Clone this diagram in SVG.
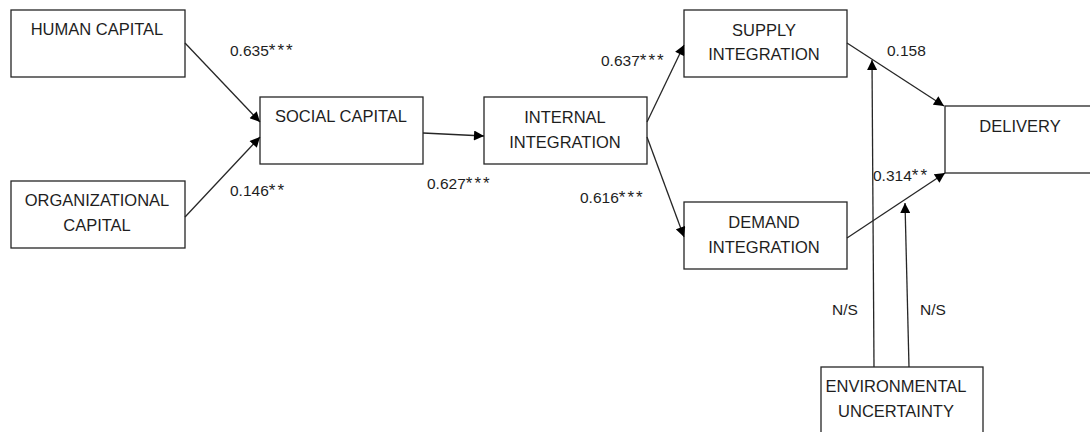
<svg xmlns="http://www.w3.org/2000/svg" width="1090" height="432" viewBox="0 0 1090 432">
<defs>
<style>
.box{fill:#fff;stroke:#262626;stroke-width:1.3}
.t{font-family:"Liberation Sans",Arial,sans-serif;font-size:16.5px;fill:#1e1e1e;text-anchor:middle}
.l{font-family:"Liberation Sans",Arial,sans-serif;font-size:15.5px;fill:#1e1e1e}
.s{letter-spacing:2px;font-size:17px}
.c{stroke:#262626;stroke-width:1.3;fill:none;marker-end:url(#ah)}
</style>
<marker id="ah" viewBox="0 0 10 10" refX="10" refY="5" markerWidth="11" markerHeight="10" markerUnits="userSpaceOnUse" orient="auto">
<path d="M0,0 L10,5 L0,10 Z" fill="#000"/>
</marker>
</defs>
<rect width="1090" height="432" fill="#fff"/>
<g id="human"><rect class="box" x="11" y="10" width="174" height="67"/><text class="t" x="97" y="35">HUMAN CAPITAL</text></g>
<g id="org"><rect class="box" x="11" y="181" width="174" height="67"/><text class="t" x="97" y="206">ORGANIZATIONAL</text><text class="t" x="97" y="231">CAPITAL</text></g>
<g id="social"><rect class="box" x="260" y="97" width="163" height="67"/><text class="t" x="341" y="122">SOCIAL CAPITAL</text></g>
<g id="internal"><rect class="box" x="484" y="97" width="163" height="67"/><text class="t" x="565" y="123">INTERNAL</text><text class="t" x="565" y="148">INTEGRATION</text></g>
<g id="supply"><rect class="box" x="684" y="10" width="163" height="67"/><text class="t" x="764" y="36">SUPPLY</text><text class="t" x="764" y="60">INTEGRATION</text></g>
<g id="demand"><rect class="box" x="684" y="202" width="163" height="67"/><text class="t" x="764" y="228">DEMAND</text><text class="t" x="764" y="253">INTEGRATION</text></g>
<g id="delivery"><rect class="box" x="945" y="106" width="160" height="67"/><text class="t" x="1020" y="132">DELIVERY</text></g>
<g id="env"><rect class="box" x="821" y="367" width="162" height="75"/><text class="t" x="896" y="392">ENVIRONMENTAL</text><text class="t" x="896" y="417">UNCERTAINTY</text></g>
<g id="connectors">
<line class="c" x1="185" y1="43" x2="260" y2="122"/>
<line class="c" x1="185" y1="217" x2="260" y2="137"/>
<line class="c" x1="423" y1="133" x2="484" y2="136"/>
<line class="c" x1="647" y1="122" x2="684" y2="45"/>
<line class="c" x1="647" y1="137" x2="684" y2="237"/>
<line class="c" x1="847" y1="43" x2="944" y2="106"/>
<line class="c" x1="847" y1="238" x2="945" y2="173"/>
<line class="c" x1="874" y1="367" x2="872" y2="60"/>
<line class="c" x1="909" y1="367" x2="905" y2="203"/>
</g>
<g id="labels">
<text class="l" x="230" y="56">0.635<tspan class="s">***</tspan></text>
<text class="l" x="230" y="196">0.146<tspan class="s">**</tspan></text>
<text class="l" x="427" y="189">0.627<tspan class="s">***</tspan></text>
<text class="l" x="601" y="66">0.637<tspan class="s">***</tspan></text>
<text class="l" x="580" y="203">0.616<tspan class="s">***</tspan></text>
<text class="l" x="887" y="56">0.158</text>
<text class="l" x="873" y="181">0.314<tspan class="s">**</tspan></text>
<text class="l" x="832" y="315">N/S</text>
<text class="l" x="920" y="315">N/S</text>
</g>
</svg>
